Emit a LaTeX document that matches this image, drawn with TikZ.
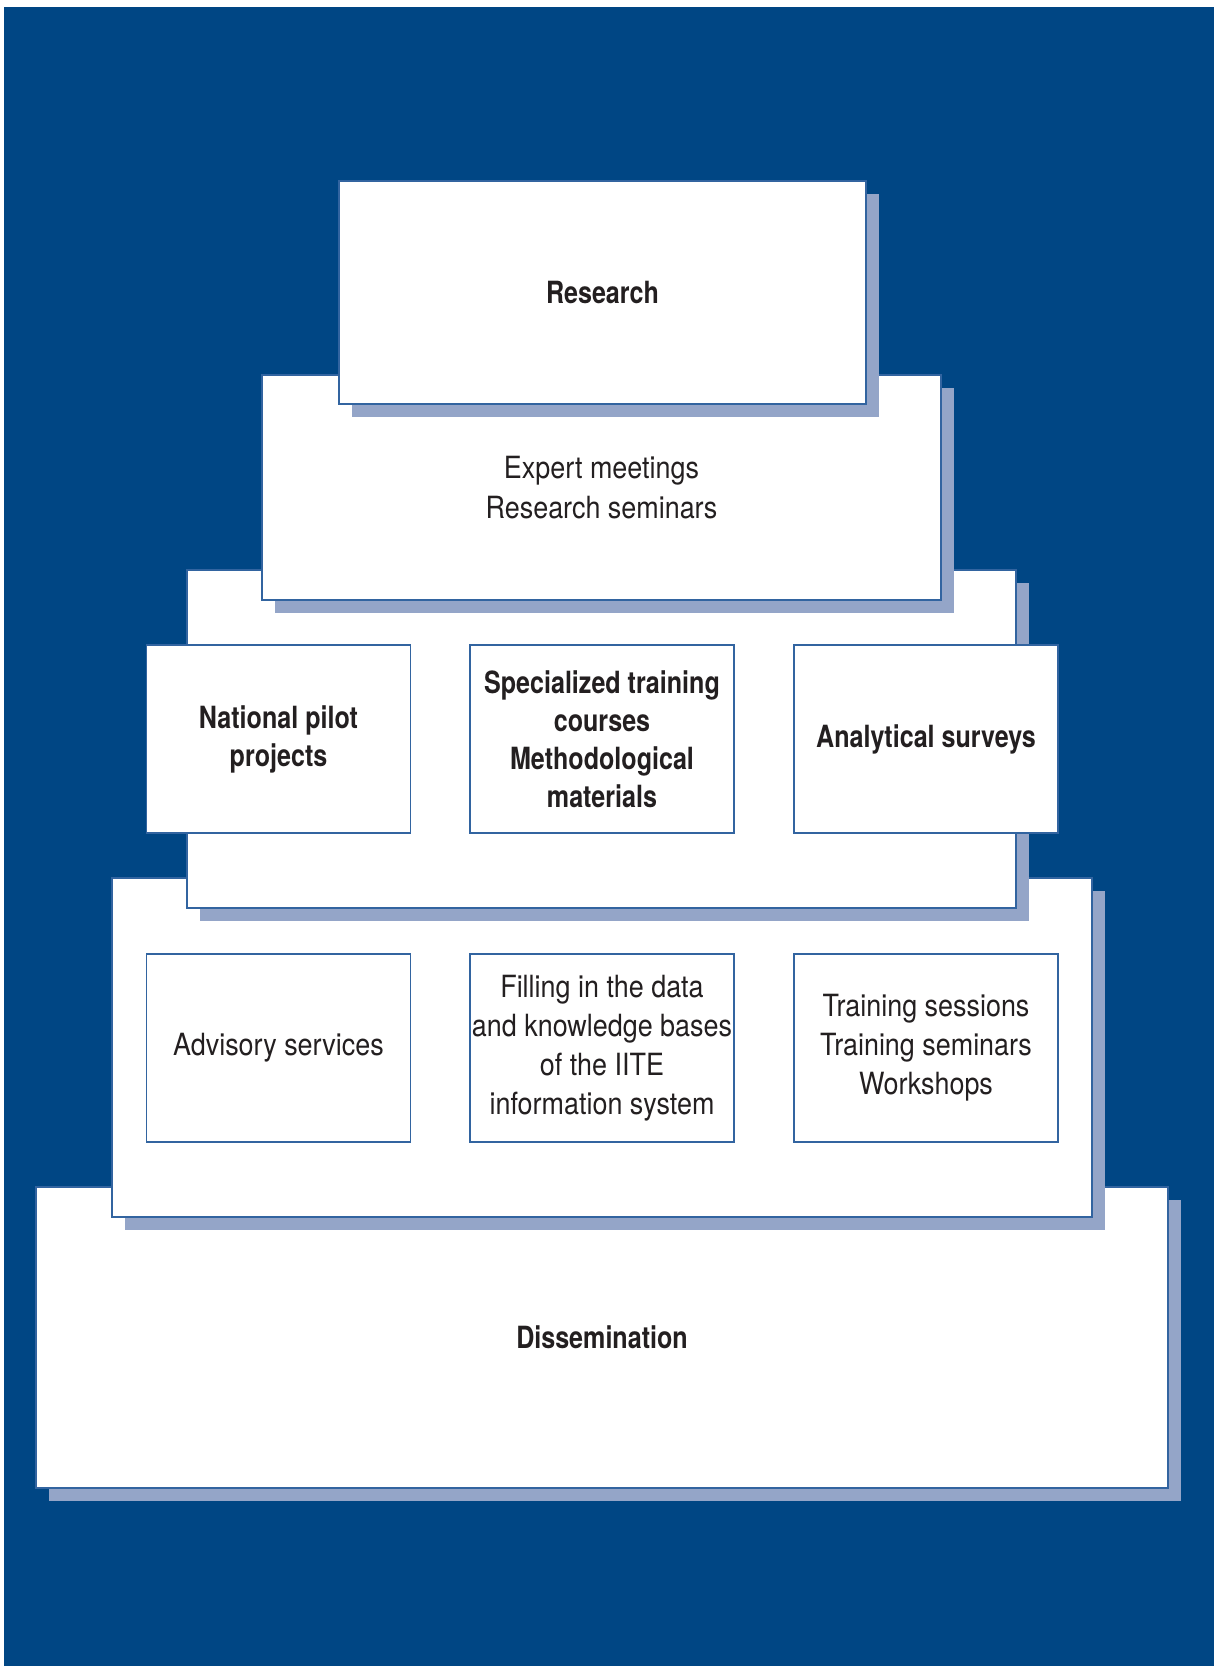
\documentclass[tikz,border=0pt]{standalone}
\usepackage{fontspec}
\setmainfont{TeX Gyre Heros}[FakeStretch=0.88,BoldFeatures={FakeStretch=0.82}]
\usetikzlibrary{shadows}
\definecolor{bgblue}{RGB}{0,70,132}
\definecolor{shadowc}{RGB}{148,165,200}
\definecolor{edgec}{RGB}{50,100,160}
\definecolor{textc}{RGB}{35,31,32}
\begin{document}
\begin{tikzpicture}[x=0.5pt,y=-0.5pt,
  txt/.style={text=textc, align=center, font=\fontsize{15.3}{19.5}\selectfont},
  layerbox/.style={txt, draw=edgec, line width=0.6pt, fill=white, inner sep=0pt,
    drop shadow={shadow xshift=6.5pt, shadow yshift=-6.5pt, fill=shadowc, opacity=1}},
  innerbox/.style={txt, draw=edgec, line width=0.6pt, fill=white, inner sep=0pt,
    minimum width=132pt, minimum height=94pt}]
\useasboundingbox (0,0) rectangle (1214,1666);
\fill[bgblue] (4,7) rectangle (1214,1666);
% layers from bottom to top
\node[layerbox, minimum width=566pt, minimum height=150.5pt] (dissem) at (602,1337.5) {\bfseries Dissemination};
\node[layerbox, minimum width=490pt, minimum height=169.5pt] (layerfour) at (602,1047.5) {};
\node[innerbox] (advisory) at (278.5,1048) {Advisory services};
\node[innerbox] (filling) at (602,1048) {Filling in the data\\and knowledge bases\\of the IITE\\information system};
\node[innerbox] (training) at (926,1048) {Training sessions\\Training seminars\\Workshops};
\node[layerbox, minimum width=414.5pt, minimum height=169pt] (layerthree) at (601.5,739) {};
\node[innerbox, font=\fontsize{15.3}{19}\selectfont\bfseries] (pilot) at (278.5,739) {National pilot\\projects};
\node[innerbox, font=\fontsize{15.3}{19}\selectfont\bfseries] (courses) at (602,739) {Specialized training\\courses\\Methodological\\materials};
\node[innerbox, font=\fontsize{15.3}{19}\selectfont\bfseries] (surveys) at (926,739) {Analytical surveys};
\node[layerbox, minimum width=339.5pt, minimum height=112.5pt, font=\fontsize{15.3}{20}\selectfont] (expert) at (601.5,487.5) {Expert meetings\\Research seminars};
\node[layerbox, minimum width=263.5pt, minimum height=111.5pt] (research) at (602.5,292.5) {\bfseries Research};
\end{tikzpicture}
\end{document}
